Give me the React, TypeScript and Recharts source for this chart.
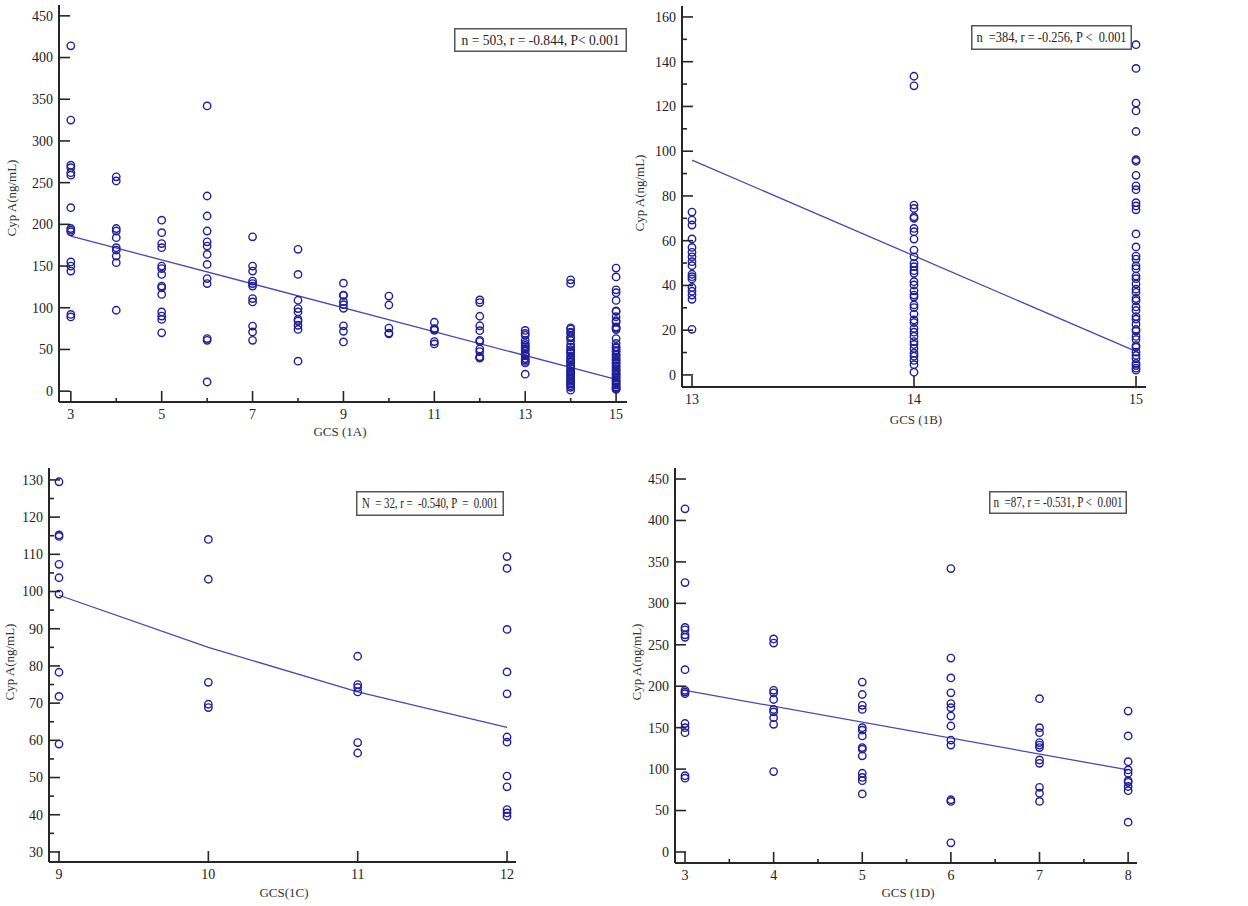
import React from "react";
import { ScatterChart, Scatter, XAxis, YAxis } from "recharts";

// Cyp A (ng/mL) per GCS score
const gcs3 = [414, 325, 271, 268, 262, 259, 220, 195, 193, 191, 155, 150, 144, 92, 89];
const gcs4 = [257, 252, 195, 192, 184, 172, 169, 162, 154, 97];
const gcs5 = [205, 190, 177, 172, 150, 147, 140, 126, 124, 116, 95, 90, 86, 70];
const gcs6 = [342, 234, 210, 192, 179, 174, 164, 152, 135, 129, 63, 61, 11];
const gcs7 = [185, 150, 144, 132, 129, 126, 111, 107, 78, 71, 61];
const gcs8 = [170, 140, 109, 99, 95, 86, 84, 79, 74, 36];
const gcs9 = [129.5, 115.2, 114.8, 107.3, 103.7, 99.3, 78.3, 71.8, 59.0];
const gcs10 = [114, 103.3, 75.6, 69.7, 68.8];
const gcs11 = [82.6, 75, 74.2, 73, 59.4, 56.6];
const gcs12 = [109.4, 106.2, 89.8, 78.4, 72.5, 60.9, 59.5, 50.4, 47.5, 41.4, 40.5, 39.6];
const gcs13 = [72.8, 69.2, 67, 60.8, 57, 54.8, 52.8, 50.6, 48.8, 45, 43.9, 42.9, 39.1, 37.4, 35.7, 33.8, 20.4];
const gcs14 = [
  133.5, 129.2, 75.9, 74.4, 70.7, 70, 65.5, 64, 60.7, 55.8, 52.8, 49.9, 48.4, 46.6, 45.4, 41.7, 40.2,
  37.6, 35.7, 34.8, 31.3, 30.1, 27.2, 24.6, 23.4, 20.8, 19.1, 17.3, 14.9, 13.6, 11.8, 9.7, 8.4, 6.5,
  4.6, 1.2,
];
const gcs15 = [
  147.6, 137, 121.5, 118, 108.8, 96.2, 95.5, 89.2, 84.5, 82.8, 77, 75.5, 73.8, 63, 57.2, 53.1, 51.8,
  48.7, 47.5, 44.2, 43, 40.6, 38.3, 36.9, 34.2, 33.1, 30.4, 28.8, 26.1, 24.9, 22.7, 20.3, 19.6, 17.2,
  15.8, 13.1, 12.4, 10.2, 8.7, 7.3, 5.1, 4.2, 3.0, 2.1,
];

// regression lines
const fitAX = [3, 15];
const fitAY = [186, 14];
const fitBX = [13, 15];
const fitBY = [96, 10.5];
const fitCX = [9, 10, 11, 12];
const fitCY = [99, 85, 73, 63.5];
const fitDX = [3, 8];
const fitDY = [195, 99];

const col = (g: number, vals: number[]) => vals.map((v) => ({ x: g, y: v }));
const toXY = (xs: number[], ys: number[]) => xs.map((x, i) => ({ x, y: ys[i] }));

const ptsD = [
  ...col(3, gcs3), ...col(4, gcs4), ...col(5, gcs5),
  ...col(6, gcs6), ...col(7, gcs7), ...col(8, gcs8),
];
const ptsC = [...col(9, gcs9), ...col(10, gcs10), ...col(11, gcs11), ...col(12, gcs12)];
const ptsB = [...col(13, gcs13), ...col(14, gcs14), ...col(15, gcs15)];
const ptsA = [...ptsD, ...ptsC, ...ptsB];

const range = (a: number, b: number, s: number) => {
  const out: number[] = [];
  for (let v = a; v <= b + 1e-9; v += s) out.push(Math.round(v * 100) / 100);
  return out;
};

const SERIF = "'Liberation Serif', 'Times New Roman', serif";
const AXIS = "#262626";
const PT = "#1f1f99";
const LINE = "#4747b5";

type PanelProps = {
  left: number;
  top: number;
  width: number;
  height: number;
  plotLeft: number;
  plotTop: number;
  plotRight: number;
  plotBottom: number;
  xDomain: [number, number];
  yDomain: [number, number];
  xTicks: number[];
  yTicks: number[];
  xMajor: (v: number) => boolean;
  xLabelled: (v: number) => boolean;
  yMajor: (v: number) => boolean;
  points: { x: number; y: number }[];
  fit: { x: number; y: number }[];
  xTitle: string;
  xTitleX: number;
  xTitleY: number;
  yTitleX: number;
  yTitleY: number;
  stat: string;
  statBox: [number, number, number, number];
  statLen: number;
};

function Panel(p: PanelProps) {
  const yTick = (props: any) => {
    const v = props.payload.value;
    const y = props.y;
    const major = p.yMajor(v);
    return (
      <g>
        <line x1={p.plotLeft} x2={p.plotLeft + (major ? 11 : 5)} y1={y} y2={y} stroke={AXIS} strokeWidth={1.6} />
        {major && (
          <text x={p.plotLeft - 6} y={y} dy="0.35em" textAnchor="end" fontSize={14} fontFamily={SERIF} fill="#222">
            {v}
          </text>
        )}
      </g>
    );
  };
  const xTick = (props: any) => {
    const v = props.payload.value;
    const x = props.x;
    const major = p.xMajor(v);
    return (
      <g>
        <line x1={x} x2={x} y1={p.plotBottom} y2={p.plotBottom - (major ? 11 : 4)} stroke={AXIS} strokeWidth={1.6} />
        {p.xLabelled(v) && (
          <text x={x} y={p.plotBottom + 12} dy="0.35em" textAnchor="middle" fontSize={14} fontFamily={SERIF} fill="#222">
            {v}
          </text>
        )}
      </g>
    );
  };
  const [bx, by, bw, bh] = p.statBox;
  return (
    <div style={{ position: "absolute", left: p.left, top: p.top, width: p.width, height: p.height }}>
      <ScatterChart
        width={p.width}
        height={p.height}
        margin={{ top: p.plotTop, left: 0, right: p.width - p.plotRight, bottom: 0 }}
      >
        <XAxis
          type="number"
          dataKey="x"
          domain={p.xDomain}
          allowDataOverflow
          ticks={p.xTicks}
          interval={0}
          height={p.height - p.plotBottom}
          axisLine={{ stroke: AXIS, strokeWidth: 2 }}
          tickLine={false}
          tick={xTick}
        />
        <YAxis
          type="number"
          dataKey="y"
          domain={p.yDomain}
          allowDataOverflow
          ticks={p.yTicks}
          interval={0}
          width={p.plotLeft}
          axisLine={{ stroke: AXIS, strokeWidth: 2 }}
          tickLine={false}
          tick={yTick}
        />
        <Scatter
          data={p.fit}
          line={{ stroke: LINE, strokeWidth: 1.3 }}
          shape={() => <g />}
          isAnimationActive={false}
        />
        <Scatter
          data={p.points}
          shape={(s: any) => <circle cx={s.cx} cy={s.cy} r={3.7} fill="none" stroke={PT} strokeWidth={1.4} />}
          isAnimationActive={false}
        />
      </ScatterChart>
      <div
        style={{
          position: "absolute",
          left: p.yTitleX,
          top: p.yTitleY,
          transform: "translate(-50%, -50%) rotate(-90deg)",
          whiteSpace: "nowrap",
          fontFamily: SERIF,
          fontSize: 13,
          color: "#333",
        }}
      >
        Cyp A(ng/mL)
      </div>
      <div
        style={{
          position: "absolute",
          left: p.xTitleX,
          top: p.xTitleY,
          transform: "translate(-50%, -50%)",
          whiteSpace: "nowrap",
          fontFamily: SERIF,
          fontSize: 13,
          color: "#333",
        }}
      >
        {p.xTitle}
      </div>
      <svg
        width={bw}
        height={bh}
        style={{ position: "absolute", left: bx, top: by, overflow: "visible" }}
      >
        <rect x={0.75} y={0.75} width={bw - 1.5} height={bh - 1.5} fill="#fff" stroke="#555" strokeWidth={1.5} />
        <text
          x={bw / 2}
          y={bh / 2}
          dy="0.35em"
          textAnchor="middle"
          fontFamily={SERIF}
          fontSize={14}
          fill="#222"
          textLength={p.statLen}
          lengthAdjust="spacingAndGlyphs"
          style={{ whiteSpace: "pre" }}
        >
          {p.stat}
        </text>
      </svg>
    </div>
  );
}

export default function App() {
  return (
    <div style={{ position: "absolute", left: 0, top: 0, width: 1248, height: 906, background: "#fff" }}>
      <Panel
        left={0}
        top={0}
        width={640}
        height={445}
        plotLeft={59}
        plotTop={5}
        plotRight={627}
        plotBottom={402}
        xDomain={[2.74, 15.24]}
        yDomain={[-13, 463]}
        xTicks={range(3, 15, 1)}
        yTicks={range(0, 450, 50)}
        xMajor={(v) => v % 2 === 1}
        xLabelled={(v) => v % 2 === 1}
        yMajor={() => true}
        points={ptsA}
        fit={toXY(fitAX, fitAY)}
        xTitle="GCS (1A)"
        xTitleX={340}
        xTitleY={432}
        yTitleX={12}
        yTitleY={198}
        stat="n = 503, r = -0.844, P< 0.001"
        statBox={[454, 28, 173, 24]}
        statLen={158}
      />
      <Panel
        left={630}
        top={0}
        width={618}
        height={445}
        plotLeft={52}
        plotTop={6}
        plotRight={516}
        plotBottom={387}
        xDomain={[12.955, 15.045]}
        yDomain={[-5.4, 164.9]}
        xTicks={[13, 14, 15]}
        yTicks={range(0, 160, 10)}
        xMajor={() => true}
        xLabelled={() => true}
        yMajor={(v) => v % 20 === 0}
        points={ptsB}
        fit={toXY(fitBX, fitBY)}
        xTitle="GCS (1B)"
        xTitleX={286}
        xTitleY={420}
        yTitleX={10}
        yTitleY={193}
        stat="n  =384, r = -0.256, P <  0.001"
        statBox={[341, 25, 161, 25]}
        statLen={150}
      />
      <Panel
        left={0}
        top={450}
        width={620}
        height={456}
        plotLeft={49}
        plotTop={18}
        plotRight={516}
        plotBottom={412}
        xDomain={[8.933, 12.06]}
        yDomain={[27.3, 133.2]}
        xTicks={[9, 10, 11, 12]}
        yTicks={range(30, 130, 5)}
        xMajor={() => true}
        xLabelled={() => true}
        yMajor={(v) => v % 10 === 0}
        points={ptsC}
        fit={toXY(fitCX, fitCY)}
        xTitle="GCS(1C)"
        xTitleX={284}
        xTitleY={443}
        yTitleX={10}
        yTitleY={212}
        stat="N  = 32, r =  -0.540, P  =  0.001"
        statBox={[356, 41, 148, 25]}
        statLen={136}
      />
      <Panel
        left={620}
        top={450}
        width={628}
        height={456}
        plotLeft={55}
        plotTop={18}
        plotRight={517}
        plotBottom={413}
        xDomain={[2.887, 8.1]}
        yDomain={[-13.3, 463.3]}
        xTicks={range(3, 8, 0.5)}
        yTicks={range(0, 450, 50)}
        xMajor={(v) => Number.isInteger(v)}
        xLabelled={(v) => Number.isInteger(v)}
        yMajor={() => true}
        points={ptsD}
        fit={toXY(fitDX, fitDY)}
        xTitle="GCS (1D)"
        xTitleX={288}
        xTitleY={443}
        yTitleX={17}
        yTitleY={212}
        stat="n  =87, r = -0.531, P <  0.001"
        statBox={[369, 41, 138, 23]}
        statLen={129}
      />
    </div>
  );
}
